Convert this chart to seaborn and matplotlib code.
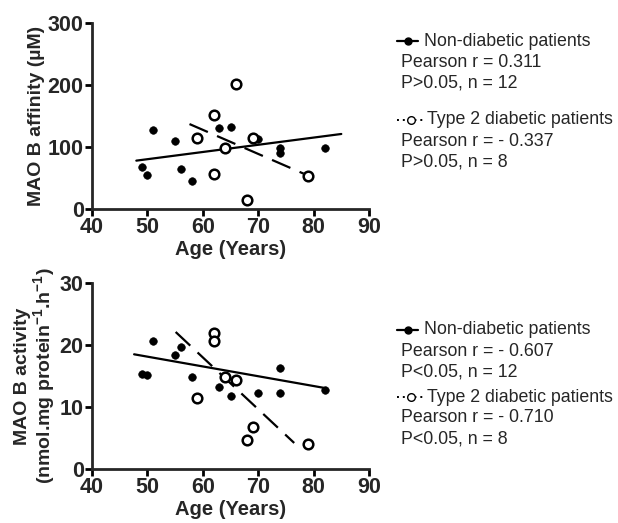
import numpy as np
import pandas as pd
import matplotlib.pyplot as plt
import seaborn as sns
from matplotlib.lines import Line2D

# ages / values
age_nd_aff = [49, 50, 51, 55, 56, 58, 63, 65, 70, 74, 74, 82]
aff_nd = [67, 55, 128, 110, 65, 45, 131, 133, 113, 98, 91, 98]
age_t2_aff = [59, 62, 62, 64, 66, 68, 69, 79]
aff_t2 = [114, 152, 56, 99, 202, 15, 114, 53]

age_nd_act = [49, 50, 51, 55, 56, 58, 63, 65, 70, 74, 74, 82]
act_nd = [15.4, 15.2, 20.6, 18.4, 19.7, 14.9, 13.2, 11.7, 12.2, 16.3, 12.3, 12.8]
age_t2_act = [59, 62, 62, 64, 66, 68, 69, 79]
act_t2 = [11.5, 22.0, 20.6, 14.9, 14.3, 4.7, 6.8, 4.1]

# regression lines as drawn in the picture (start / end)
fit_aff_nd_x, fit_aff_nd_y = [48, 85], [78, 121]
fit_aff_t2_x, fit_aff_t2_y = [57.6, 78.2], [137, 57]
fit_act_nd_x, fit_act_nd_y = [47.6, 81.8], [18.5, 13.1]
fit_act_t2_x, fit_act_t2_y = [55.1, 76.5], [22.1, 4.2]

stats_aff = [['Pearson r = 0.311', 'P>0.05, n = 12'],
             ['Pearson r = - 0.337', 'P>0.05, n = 8']]
stats_act = [['Pearson r = - 0.607', 'P<0.05, n = 12'],
             ['Pearson r = - 0.710', 'P<0.05, n = 8']]

sns.set_style('ticks')
plt.rcParams['font.family'] = ['Liberation Sans', 'DejaVu Sans']
plt.rcParams['mathtext.fontset'] = 'custom'
plt.rcParams['mathtext.rm'] = 'Liberation Sans'
plt.rcParams['mathtext.bf'] = 'Liberation Sans:bold'

W, H = 618, 523
fig = plt.figure(figsize=(W / 100, H / 100), dpi=100)
ax1 = fig.add_axes([92 / W, 1 - 209 / H, 277 / W, 186 / H])
ax2 = fig.add_axes([92 / W, 1 - 469 / H, 277 / W, 186 / H])


def fit_line(ax, x, y, dashed):
    d = pd.DataFrame({'x': x, 'y': y})
    l = sns.lineplot(data=d, x='x', y='y', ax=ax, color='black', lw=1.6)
    if dashed:
        l.lines[-1].set_dashes((9, 4.5))


def panel(ax, xa, ya, xb, yb, fits, ylim, yticks, ylabel):
    fit_line(ax, *fits[0], False)
    fit_line(ax, *fits[1], True)
    sns.scatterplot(x=xa, y=ya, ax=ax, color='black', s=30, edgecolor='black', zorder=3)
    sns.scatterplot(x=xb, y=yb, ax=ax, facecolor='white', s=48, edgecolor='black',
                    linewidth=1.8, zorder=4)
    ax.set_xlim(40, 90)
    ax.set_ylim(*ylim)
    ax.set_xticks([40, 50, 60, 70, 80, 90])
    ax.set_yticks(yticks)
    for s in ['top', 'right']:
        ax.spines[s].set_visible(False)
    for s in ['left', 'bottom']:
        ax.spines[s].set_linewidth(2)
    ax.tick_params(width=2, length=5, labelsize=15.5, pad=1, color='black')
    for t in ax.get_xticklabels() + ax.get_yticklabels():
        t.set_fontweight('bold')
    ax.set_xlabel('Age (Years)', fontsize=14.5, fontweight='bold', labelpad=1)
    ax.set_ylabel(ylabel, fontsize=14, fontweight='bold', labelpad=2, linespacing=1.0)


panel(ax1, age_nd_aff, aff_nd, age_t2_aff, aff_t2,
      [(fit_aff_nd_x, fit_aff_nd_y), (fit_aff_t2_x, fit_aff_t2_y)], (0, 300),
      [0, 100, 200, 300], 'MAO B affinity (µM)')
panel(ax2, age_nd_act, act_nd, age_t2_act, act_t2,
      [(fit_act_nd_x, fit_act_nd_y), (fit_act_t2_x, fit_act_t2_y)], (0, 30),
      [0, 10, 20, 30],
      'MAO B activity\n(nmol.mg protein$\\mathbf{^{-1}}$.h$\\mathbf{^{-1}}$)')


def legend_block(top, gap, stats):
    heads = ['Non-diabetic patients', 'Type 2 diabetic patients']
    ys = [top, top + gap]
    for i, y in enumerate(ys):
        if i == 0:
            h = Line2D([397 / W, 407.5 / W, 418 / W], [1 - y / H] * 3, color='black',
                       lw=1.6, marker='o', markersize=5, markevery=[1],
                       transform=fig.transFigure)
        else:
            h = Line2D([397 / W, 411 / W, 425 / W], [1 - y / H] * 3, color='black', lw=1.4,
                       ls=(0, (1, 2)), marker='o', markersize=5.5, markerfacecolor='white',
                       markeredgewidth=1, markevery=[1], transform=fig.transFigure)
        fig.add_artist(h)
        fig.text((424 if i == 0 else 427) / W, 1 - y / H, heads[i], fontsize=12.8,
                 va='center', ha='left')
        for j, line in enumerate(stats[i]):
            fig.text(401 / W, 1 - (y + 21 * (j + 1)) / H, line, fontsize=12.8,
                     va='center', ha='left')


legend_block(41, 79, stats_aff)
legend_block(330, 67, stats_act)

fig.savefig('out.png', dpi=100)
